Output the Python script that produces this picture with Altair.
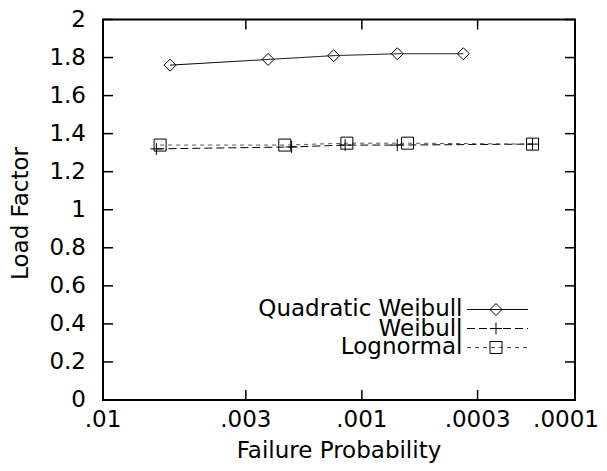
import altair as alt
import pandas as pd
from statistics import NormalDist

# ---- data ----
series_names = ["Quadratic Weibull", "Weibull", "Lognormal"]
quad_p = [0.0058, 0.00245, 0.00132, 0.0007, 0.00035]
quad_lf = [1.76, 1.79, 1.81, 1.82, 1.82]
weib_p = [0.0065, 0.00197, 0.00118, 0.0007, 0.000163]
weib_lf = [1.32, 1.33, 1.34, 1.34, 1.345]
logn_p = [0.0063, 0.0021, 0.00116, 0.00063, 0.000163]
logn_lf = [1.34, 1.34, 1.35, 1.35, 1.345]

x_tick_p = [0.01, 0.003, 0.001, 0.0003, 0.0001]
x_tick_labels = [".01", ".003", ".001", ".0003", ".0001"]
y_ticks = [0, 0.2, 0.4, 0.6, 0.8, 1.0, 1.2, 1.4, 1.6, 1.8, 2.0]
x_title = "Failure Probability"
y_title = "Load Factor"

# ---- helpers ----
nd = NormalDist()


def beta(p):
    # failure probability -> reliability index (normal-probability axis)
    return -nd.inv_cdf(p)


rows = []
for name, ps, lfs in zip(series_names, [quad_p, weib_p, logn_p], [quad_lf, weib_lf, logn_lf]):
    for p, lf in zip(ps, lfs):
        rows.append({"series": name, "p": p, "beta": beta(p), "lf": lf})
df = pd.DataFrame(rows)

tick_betas = [beta(p) for p in x_tick_p]
x_dom = [tick_betas[0], tick_betas[-1]]

W, H = 472, 380.5
FONT = "DejaVu Sans"
FS = 23
TL = 10

xscale = alt.Scale(domain=x_dom, nice=False, zero=False)
yscale = alt.Scale(domain=[0, 2], nice=False, zero=True)

dash_scale = alt.Scale(domain=series_names, range=[[1, 0], [8, 4], [4, 4]])
color_scale = alt.Scale(domain=series_names, range=["#000000", "#000000", "#555555"])
shape_scale = alt.Scale(domain=series_names, range=["diamond", "M-1,0H1M0,-1V1", "square"])

text_style = dict(font=FONT, fontSize=FS, color="black")

base = alt.Chart(df)

lines = base.mark_line(strokeWidth=1).encode(
    x=alt.X("beta:Q", scale=xscale, axis=None),
    y=alt.Y("lf:Q", scale=yscale, axis=None),
    strokeDash=alt.StrokeDash("series:N", scale=dash_scale, legend=None),
    color=alt.Color("series:N", scale=color_scale, legend=None),
    detail="series:N",
)

points = base.mark_point(filled=False, size=144, strokeWidth=1, color="black", opacity=1).encode(
    x=alt.X("beta:Q", axis=None),
    y=alt.Y("lf:Q", axis=None),
    shape=alt.Shape("series:N", scale=shape_scale, legend=None),
)

# ---- frame ticks (inward, gnuplot style) and tick labels ----
xt = pd.DataFrame({"beta": tick_betas, "label": x_tick_labels})
yt = pd.DataFrame({"lf": y_ticks, "label": [f"{v:g}" for v in y_ticks]})
tick_style = dict(color="black", strokeWidth=1.5)
bottom_ticks = alt.Chart(xt).mark_rule(**tick_style).encode(
    x=alt.X("beta:Q", axis=None), y=alt.value(H), y2=alt.value(H - TL))
top_ticks = alt.Chart(xt).mark_rule(**tick_style).encode(
    x=alt.X("beta:Q", axis=None), y=alt.value(0), y2=alt.value(TL))
left_ticks = alt.Chart(yt).mark_rule(**tick_style).encode(
    y=alt.Y("lf:Q", axis=None), x=alt.value(0), x2=alt.value(TL))
right_ticks = alt.Chart(yt).mark_rule(**tick_style).encode(
    y=alt.Y("lf:Q", axis=None), x=alt.value(W), x2=alt.value(W - TL))

last_label = x_tick_labels[-1]
x_labels = alt.Chart(xt).transform_filter(
    f"datum.label != '{last_label}'"
).mark_text(align="center", baseline="top", **text_style).encode(
    x=alt.X("beta:Q", axis=None), y=alt.value(H + 9), text="label:N")
x_label_last = alt.Chart(xt).transform_filter(
    f"datum.label == '{last_label}'"
).mark_text(align="center", baseline="top", dx=-9, **text_style).encode(
    x=alt.X("beta:Q", axis=None), y=alt.value(H + 9), text="label:N")
y_labels = alt.Chart(yt).mark_text(align="right", baseline="middle", **text_style).encode(
    y=alt.Y("lf:Q", axis=None), x=alt.value(-17), text="label:N")

x_title_mark = alt.Chart(pd.DataFrame({"t": [x_title]})).mark_text(
    align="center", baseline="alphabetic", **text_style
).encode(x=alt.value(W / 2), y=alt.value(H + 57.5), text="t:N")
y_title_mark = alt.Chart(pd.DataFrame({"t": [y_title]})).mark_text(
    align="center", baseline="alphabetic", angle=270, **text_style
).encode(x=alt.value(-75), y=alt.value(194), text="t:N")

# ---- legend (label left, sample right, as in gnuplot) ----
leg = pd.DataFrame({
    "series": series_names,
    "tx": [3.3871] * 3,
    "x0": [3.4003] * 3,
    "x1": [3.5803] * 3,
    "xm": [3.4859] * 3,
    "ly": [0.4757, 0.3758, 0.2760],
})
leg_text = alt.Chart(leg).mark_text(align="right", baseline="middle", **text_style).encode(
    x=alt.X("tx:Q", axis=None), y=alt.Y("ly:Q", axis=None), text="series:N")
leg_line = alt.Chart(leg).mark_rule(strokeWidth=1).encode(
    x=alt.X("x0:Q", axis=None), x2="x1:Q", y=alt.Y("ly:Q", axis=None),
    strokeDash=alt.StrokeDash("series:N", scale=dash_scale, legend=None),
    color=alt.Color("series:N", scale=color_scale, legend=None),
)
leg_pt = alt.Chart(leg).mark_point(filled=False, size=144, strokeWidth=1, color="black", opacity=1).encode(
    x=alt.X("xm:Q", axis=None), y=alt.Y("ly:Q", axis=None),
    shape=alt.Shape("series:N", scale=shape_scale, legend=None),
)

chart = alt.layer(
    lines, points, bottom_ticks, top_ticks, left_ticks, right_ticks,
    x_labels, x_label_last, y_labels, x_title_mark, y_title_mark,
    leg_line, leg_pt, leg_text,
).properties(
    width=W,
    height=H,
    autosize=alt.AutoSizeParams(type="none"),
    padding={"left": 95, "top": 11.5, "right": 24, "bottom": 63},
    background="white",
).configure_view(
    stroke="black", strokeWidth=2
)

chart.save("out.html", embed_options={"renderer": "svg", "actions": False})
